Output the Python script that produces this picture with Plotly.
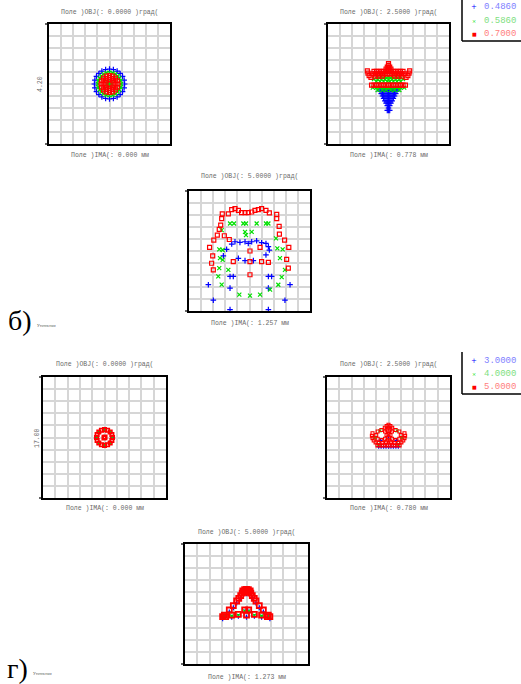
import plotly.graph_objects as go

W, H = 521, 684

# ---------------- data (spot coordinates, microns) ----------------
# Panel б) field 0.0000
b1_blue_x = [12.5, 12.1, 10.8, 8.8, 6.3, 3.2, 0, -3.2, -6.3, -8.8, -10.8, -12.1, -12.5, -12.1, -10.8, -8.8, -6.3, -3.2, 0, 3.2, 6.3, 8.8, 10.8, 12.1]
b1_blue_y = [0, 3.2, 6.3, 8.8, 10.8, 12.1, 12.5, 12.1, 10.8, 8.8, 6.3, 3.2, 0, -3.2, -6.3, -8.8, -10.8, -12.1, -12.5, -12.1, -10.8, -8.8, -6.3, -3.2]
b1_green_x = [9.5, 9.2, 8.2, 6.7, 4.8, 2.5, 0, -2.5, -4.8, -6.7, -8.2, -9.2, -9.5, -9.2, -8.2, -6.7, -4.8, -2.5, 0, 2.5, 4.8, 6.7, 8.2, 9.2,
              1.5, 1.1, 0, -1.1, -1.5, -1.1, 0, 1.1]
b1_green_y = [0, 2.5, 4.8, 6.7, 8.2, 9.2, 9.5, 9.2, 8.2, 6.7, 4.8, 2.5, 0, -2.5, -4.8, -6.7, -8.2, -9.2, -9.5, -9.2, -8.2, -6.7, -4.8, -2.5,
              0, 1.1, 1.5, 1.1, 0, -1.1, -1.5, -1.1]
b1_red_x = [7, 6.5, 4.9, 2.7, 0, -2.7, -4.9, -6.5, -7, -6.5, -4.9, -2.7, 0, 2.7, 4.9, 6.5,
            5.3, 4.6, 2.7, 0, -2.7, -4.6, -5.3, -4.6, -2.7, 0, 2.7, 4.6,
            3.6, 2.5, 0, -2.5, -3.6, -2.5, 0, 2.5]
b1_red_y = [0, 2.7, 4.9, 6.5, 7, 6.5, 4.9, 2.7, 0, -2.7, -4.9, -6.5, -7, -6.5, -4.9, -2.7,
            0, 2.7, 4.6, 5.3, 4.6, 2.7, 0, -2.7, -4.6, -5.3, -4.6, -2.7,
            0, 2.5, 3.6, 2.5, 0, -2.5, -3.6, -2.5]

# Panel б) field 2.5000
b2_red_x = [0, 0, -1, 1, -2, 0, 2,
            -12, -10, -8, -6, -4, -2, 0, 2, 4, 6, 8, 10, 12,
            -13, -11, -9, -7, -5, -3, -1, 1, 3, 5, 7, 9, 11, 13,
            -17.5, -17, -16, -14.5, 17.5, 17, 16, 14.5,
            -11, -8, -5, 5, 8, 11,
            -14, -12, -10, -8, -6, -4, -2, 0, 2, 4, 6, 8, 10, 12, 14]
b2_red_y = [17, 15.5, 14, 14, 12.5, 12.5, 12.5,
            10.5, 10.5, 10.5, 10.5, 10.5, 10.5, 10.5, 10.5, 10.5, 10.5, 10.5, 10.5, 10.5,
            8.5, 8.5, 8.5, 8.5, 8.5, 8.5, 8.5, 8.5, 8.5, 8.5, 8.5, 8.5, 8.5, 8.5,
            11, 9, 7, 5.5, 11, 9, 7, 5.5,
            6.5, 6.5, 6.5, 6.5, 6.5, 6.5,
            -1, -1, -1, -1, -1, -1, -1, -1, -1, -1, -1, -1, -1, -1, -1]
b2_green_x = [-9, -6, -3, 0, 3, 6, 9,
              -12, -9, -6, -3, 0, 3, 6, 9, 12,
              -10, -7, -4, -1, 1, 4, 7, 10,
              -13, -10, -7, -4, -1, 1, 4, 7, 10, 13,
              -9, -5, -2, 2, 5, 9]
b2_green_y = [6, 6, 6, 6, 6, 6, 6,
              4, 4, 4, 4, 4, 4, 4, 4, 4,
              2, 2, 2, 2, 2, 2, 2, 2,
              -3, -3, -3, -3, -3, -3, -3, -3, -3, -3,
              -5, -5, -5, -5, -5, -5]
b2_blue_x = [-6, -4, -2, 0, 2, 4, 6, 8,
             -7, -5, -3, -1, 1, 3, 5, 7,
             -6, -4, -2, 0, 2, 4, 6,
             -5, -3, -1, 1, 3, 5,
             -4, -2, 0, 2, 4,
             -3, -1, 1, 3,
             -2, 0, 2,
             -1, 1,
             0,
             -1, 0, 1]
b2_blue_y = [-4, -4, -4, -4, -4, -4, -4, -4,
             -6, -6, -6, -6, -6, -6, -6, -6,
             -8, -8, -8, -8, -8, -8, -8,
             -10, -10, -10, -10, -10, -10,
             -12, -12, -12, -12, -12,
             -14, -14, -14, -14,
             -16, -16, -16,
             -18, -18,
             -20,
             -22, -22, -22]

# Panel б) field 5.0000
b3_red_x = [-22.5, -17.5, -14.7, -12, -9.2, -6.5, -3.7, -1, 1.8, 4.5, 7.3, 10, 13.6, 16.4, 22.5,
            -23, -23.8, -25, -26.6, -29.5, -33, -30.4, -31.3, -29.9,
            22.5, 24.5, 24.7, 29, 32.5, 30.7, 32.1,
            -20.8, -16.7, 0.4, 8.7, -13.4, 0.4, 10, 15.6, 0.4]
b3_red_y = [31, 31, 34.4, 35.3, 33.9, 32, 32, 32, 32.5, 33.9, 34.4, 35.3, 33.9, 31.7, 30.6,
            27, 21.5, 18, 13.2, 9.1, 3, -4.1, -10.2, -15.7,
            27, 20.5, 14, 9.1, 3, -6.9, -14.3,
            12.7, 9.6, 0, 3, -8.8, -8.8, -8.8, -9.5, -19.8]
b3_green_x = [-16.1, -12.8, -5.1, -2.9, 5.9, 13.6, 15.6,
              -3.7, -2.9, 1.8, -23, -25, -22.2, -24.4, -22.2, -25, -25.8, -23,
              -8.4, 0.4, 8.7, 17, 23.8, 26.6, 29.3, 25.2, 27.4, 23, 21.9, -17.5]
b3_green_y = [22.9, 22.9, 22.9, 22.9, 22.9, 22.9, 22.9,
              16, 13.2, 16, 17.4, 1.4, 0.8, -6, -7.4, -14.3, -21.2, -28,
              -36.4, -37.2, -36.4, -32.2, -28.1, -21.8, -15.7, -6, 1.4, 2.2, 10.5, -15.7]
b3_blue_x = [-14.7, -12, -7.9, -3.7, -1, 1.8, 5.9, 10, 13.6, 15.6, -18.9, -21.6, -9.2, -3.7, 3.2, 13.6, 16.4,
             -16.1, -13.4, 15.6, 18.3, -16.1, 15.6, -34, 33.5, -29.9, 29.3, -22.2, 22.5, -16.1, 15.6, -2.3, 3.2, 0.4]
b3_blue_y = [5.8, 7.7, 7.2, 7.7, 6.3, 7.7, 8.5, 6.9, 6.3, 3.6, 1.4, -4.1, -6.1, -8, -8, -3.3, 0.8,
             -21.2, -21.2, -21.2, -21.2, -30.9, -30.9, -28.1, -28.1, -41, -41, -52, -52, -48.8, -48.8, -59.8, -59.8, -63.1]

# Panel г) field 0.0000
g1_blue_x = [6.3, 4.5, 0, -4.5, -6.3, -4.5, 0, 4.5]
g1_blue_y = [0, 4.5, 6.3, 4.5, 0, -4.5, -6.3, -4.5]
g1_green_x = [6.3, 4.5, 0, -4.5, -6.3, -4.5, 0, 4.5]
g1_green_y = [0, 4.5, 6.3, 4.5, 0, -4.5, -6.3, -4.5]
g1_red_x = [6.5, 6, 4.6, 2.5, 0, -2.5, -4.6, -6, -6.5, -6, -4.6, -2.5, 0, 2.5, 4.6, 6, 0, 0.4, -0.4]
g1_red_y = [0, 2.5, 4.6, 6, 6.5, 6, 4.6, 2.5, 0, -2.5, -4.6, -6, -6.5, -6, -4.6, -2.5, 0, 0.3, -0.3]

# Panel г) field 2.5000
g2_blue_x = [-8, -6, -4, -2, 0, 2, 4, 6, 8, -6.5, 6.5, 0]
g2_blue_y = [-7.5, -7.5, -7.5, -7.5, -7.5, -7.5, -7.5, -7.5, -7.5, -2.3, -2.3, 1]
g2_green_x = [-11, 11, -8, 8, -7, 7]
g2_green_y = [0, 0, -5.5, -5.5, 5.5, 5.5]
g2_red_x = [0, -1.5, 1.5, -3, 0, 3, -1.5, 1.5,
            -1.6, -2.8, -5.8, -8.8, -10, -8.8, -5.8, -2.8,
            10, 8.8, 5.8, 2.8, 1.6, 2.8, 5.8, 8.8,
            -13, -13.5, -13, -12, -10.5, 13, 13.5, 13, 12, 10.5,
            0, 0, -1, 1,
            -8, -5, -2, 2, 5, 8,
            -9, -7, -5, -3, -1, 1, 3, 5, 7, 9]
g2_red_y = [10.5, 9.5, 9.5, 8, 8, 8, 6.5, 6.5,
            2, 5, 6.2, 5, 2, -1, -2.2, -1,
            2, 5, 6.2, 5, 2, -1, -2.2, -1,
            3.5, 1.5, -0.5, -2.5, -4, 3.5, 1.5, -0.5, -2.5, -4,
            3, 0, -2.5, -2.5,
            -4.5, -4.5, -4, -4, -4.5, -4.5,
            -6.5, -6.5, -6.5, -6.5, -6.5, -6.5, -6.5, -6.5, -6.5, -6.5]

# Panel г) field 5.0000
g3_blue_x = [0, -4.7, 4.7, -8, 7.7, -10.7, 10.4, -14, 13.7, -18, -19.4, 17.7, 19, -12, -6.6, 0, 6.4, 12.3, -1.5, 1.8]
g3_blue_y = [8.5, 5.2, 5.2, 0.8, 0.8, -3.1, -3.1, -6.7, -6.7, -11, -12.3, -11, -12.3, -11, -10.3, -11, -10.3, -11, -6.7, -6.7]
g3_green_x = [-18.5, 18.5, -6.6, 6.4, -1.5, 1.8, -3, 3, -12, 12.3]
g3_green_y = [-10.5, -10.5, -9.5, -9.5, -6, -6, 9, 9, -10.2, -10.2]
g3_red_x = [0, -1.5, 1.5, -3, 3, -2, 2, 0, -3.5, 3.5,
            -4.7, -6.3, -8, -10.7, -14, -18, -19.4, -17,
            4.7, 6.3, 7.7, 10.4, 13.7, 17.7, 19, 17,
            -12, -6.6, -1.5, 1.8, 0, 6.4, 12.3]
g3_red_y = [12.2, 12, 12, 11, 11, 10, 10, 10, 9, 9,
            6.9, 4.7, 2.5, -1.4, -5, -9.2, -10.6, -10.5,
            6.9, 4.7, 2.5, -1.4, -5, -9.2, -10.6, -10.5,
            -9.2, -8.6, -5, -5, -9.2, -8.6, -9.2]

# text
top_titles = ["Поле )OBJ(: 0.0000 )град(", "Поле )OBJ(: 2.5000 )град(", "Поле )OBJ(: 5.0000 )град(",
              "Поле )OBJ(: 0.0000 )град(", "Поле )OBJ(: 2.5000 )град(", "Поле )OBJ(: 5.0000 )град("]
bottom_titles = ["Поле )IMA(: 0.000 мм", "Поле )IMA(: 0.778 мм", "Поле )IMA(: 1.257 мм",
                 "Поле )IMA(: 0.000 мм", "Поле )IMA(: 0.780 мм", "Поле )IMA(: 1.273 мм"]
scale_labels = ["4.20", "17.00"]
legend1_labels = ["0.4860", "0.5860", "0.7000"]
legend2_labels = ["3.0000", "4.0000", "5.0000"]
panel_letters = ["б)", "г)"]
panel_notes = ["Уточнения", "Уточнения"]

# ---------------- layout ----------------
BLUE, GREEN, RED = "#0000ff", "#00e000", "#ff0000"
boxes = [(49, 24, 170, 144), (328, 24, 449, 144), (189, 191, 310, 311),
         (43, 377, 166, 498), (327, 377, 450, 498), (185, 544, 308, 664)]
title_y = [(13, 155), (13, 155), (176, 323), (365, 509), (365, 509), (532, 677)]
# marker sizes per panel: (blue, green, red, red line width)
msizes = [(4, 4, 4, 1.2), (4, 4, 4, 1.2), (4, 4, 4, 1.2), (3, 3, 3.5, 1.6), (3, 3, 3, 1.1), (3.5, 3.5, 5, 1.8)]

series = [
    [(b1_blue_x, b1_blue_y), (b1_green_x, b1_green_y), (b1_red_x, b1_red_y)],
    [(b2_blue_x, b2_blue_y), (b2_green_x, b2_green_y), (b2_red_x, b2_red_y)],
    [(b3_blue_x, b3_blue_y), (b3_green_x, b3_green_y), (b3_red_x, b3_red_y)],
    [(g1_blue_x, g1_blue_y), (g1_green_x, g1_green_y), (g1_red_x, g1_red_y)],
    [(g2_blue_x, g2_blue_y), (g2_green_x, g2_green_y), (g2_red_x, g2_red_y)],
    [(g3_blue_x, g3_blue_y), (g3_green_x, g3_green_y), (g3_red_x, g3_red_y)],
]

fig = go.Figure()
annotations = []
shapes = []
FONT_MONO = "Liberation Mono, DejaVu Sans Mono, monospace"
TXT = "#6a6a6a"

def px(x):
    return x / W

def py(y):
    return 1 - y / H

for i, (box, ser) in enumerate(zip(boxes, series)):
    n = i + 1
    xa = "x" if n == 1 else f"x{n}"
    ya = "y" if n == 1 else f"y{n}"
    x0, y0, x1, y1 = box
    axis_common = dict(range=[-50, 50], showticklabels=False, zeroline=False,
                       showline=True, mirror=True, linecolor="black", linewidth=1.5,
                       tickmode="linear", tick0=0, dtick=10, ticks="",
                       showgrid=True, gridcolor="#d6d6d6", gridwidth=1.5, fixedrange=True)
    fig.layout[f"xaxis{'' if n == 1 else n}"] = dict(domain=[px(x0), px(x1)], anchor=ya, **axis_common)
    fig.layout[f"yaxis{'' if n == 1 else n}"] = dict(domain=[py(y1), py(y0)], anchor=xa, **axis_common)
    # small outer ticks at the two ends of the left frame
    for yy in (y0, y1):
        shapes.append(dict(type="line", xref="paper", yref="paper", x0=px(x0 - 4), x1=px(x0),
                           y0=py(yy), y1=py(yy), line=dict(color="black", width=1.2)))
    bs, gs, rs, rw = msizes[i]
    styles = [
        dict(symbol="cross-thin", size=bs, line=dict(width=1.2, color=BLUE), color=BLUE),
        dict(symbol="x-thin", size=gs, line=dict(width=1.2, color=GREEN), color=GREEN),
        dict(symbol="square-open", size=rs, line=dict(width=rw, color=RED), color=RED),
    ]
    for (sx, sy), st in zip(ser, styles):
        fig.add_trace(go.Scatter(x=sx, y=sy, mode="markers", marker=st, xaxis=xa, yaxis=ya,
                                 cliponaxis=False, showlegend=False, hoverinfo="skip"))
    cx = (x0 + x1) / 2
    ty, by = title_y[i]
    for txt, yy in [(top_titles[i], ty), (bottom_titles[i], by)]:
        annotations.append(dict(x=px(cx), y=py(yy), xref="paper", yref="paper", text=txt,
                                showarrow=False, font=dict(family=FONT_MONO, size=6.5, color=TXT),
                                xanchor="center", yanchor="middle"))

# scale labels on the left of first boxes
for lab, (lx, ly) in zip(scale_labels, [(41, 84), (37, 438)]):
    annotations.append(dict(x=px(lx), y=py(ly), xref="paper", yref="paper", text=lab, textangle=-90,
                            showarrow=False, font=dict(family=FONT_MONO, size=6.5, color=TXT),
                            xanchor="center", yanchor="middle"))

# legends
legend_syms = [("+", BLUE, "#8080ff"), ("×", GREEN, "#7ee07e"), ("■", RED, "#ff8080")]
for labels, ys, (top, bottom) in [(legend1_labels, [7, 21, 34], (-2, 41)),
                                   (legend2_labels, [361, 374, 387], (352, 394))]:
    shapes.append(dict(type="line", xref="paper", yref="paper", x0=px(462), x1=px(462),
                       y0=py(top), y1=py(bottom), line=dict(color="black", width=1.5)))
    shapes.append(dict(type="line", xref="paper", yref="paper", x0=px(462), x1=px(523),
                       y0=py(bottom), y1=py(bottom), line=dict(color="black", width=1.5)))
    for lab, yy, (sym, mc, tc) in zip(labels, ys, legend_syms):
        annotations.append(dict(x=px(474), y=py(yy), xref="paper", yref="paper", text=sym,
                                showarrow=False, font=dict(family="DejaVu Sans", size=5 if sym != "+" else 7, color=mc),
                                xanchor="center", yanchor="middle"))
        annotations.append(dict(x=px(482), y=py(yy), xref="paper", yref="paper", text=lab,
                                showarrow=False, font=dict(family=FONT_MONO, size=9, color=tc),
                                xanchor="left", yanchor="middle"))

# panel letters
for let, note, (lx, ly), (nx, ny) in zip(panel_letters, panel_notes,
                                          [(6, 320), (5, 668)], [(35, 325), (31, 673)]):
    annotations.append(dict(x=px(lx), y=py(ly), xref="paper", yref="paper", text=let,
                            showarrow=False, font=dict(family="Liberation Serif, serif", size=28, color="black"),
                            xanchor="left", yanchor="middle"))
    annotations.append(dict(x=px(nx), y=py(ny), xref="paper", yref="paper", text=note,
                            showarrow=False, font=dict(family="Liberation Serif, serif", size=4, color="#555555"),
                            xanchor="left", yanchor="middle"))

fig.update_layout(width=W, height=H, margin=dict(l=0, r=0, t=0, b=0),
                  paper_bgcolor="white", plot_bgcolor="white",
                  annotations=annotations, shapes=shapes, showlegend=False)

fig.write_html("out.html", config={"displayModeBar": False})
